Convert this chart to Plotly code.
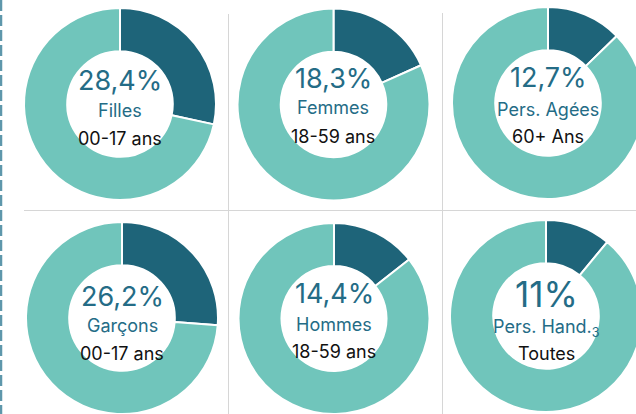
import plotly.graph_objects as go

# ---- data ----
percent_values = [28.4, 18.3, 12.7, 26.2, 14.4, 11.0]
percent_labels = ["28,4%", "18,3%", "12,7%", "26,2%", "14,4%", "11%"]
group_labels = ["Filles", "Femmes", "Pers. Agées", "Garçons", "Hommes", "Pers. Hand.<sub>3</sub>"]
age_labels = ["00-17 ans", "18-59 ans", "60+ Ans", "00-17 ans", "18-59 ans", "Toutes"]

# ---- layout (pixels) ----
W, H = 660, 414
centers = [(120, 104), (333.5, 104.5), (548, 103), (122, 318), (334, 318.5), (546, 316)]
R = 96
pct_sizes = [27, 27, 27, 27, 27, 35]
text_rows = [(81, 110.5, 139), (78.5, 107.5, 136), (78, 109.5, 136),
             (296, 325.5, 353.5), (293.5, 324.5, 351.5), (293.5, 327.5, 353.5)]

DARK = "#1e6479"
TEAL = "#70c5bb"
TXT = "#246c86"

fig = go.Figure()

def px_x(x):
    return x / W

def px_y(y):
    return 1 - y / H

for i, v in enumerate(percent_values):
    cx, cy = centers[i]
    r = min(R, H - cy, cy)
    x0, x1 = px_x(cx - r), px_x(cx + r)
    y0, y1 = px_y(cy + r), px_y(cy - r)
    fig.add_trace(go.Pie(
        values=[v, 100 - v],
        labels=["part", "reste"],
        hole=0.55,
        sort=False,
        direction="clockwise",
        rotation=0,
        marker=dict(colors=[DARK, TEAL], line=dict(color="white", width=2)),
        textinfo="none",
        hoverinfo="skip",
        showlegend=False,
        domain=dict(x=[max(0, x0), min(1, x1)], y=[max(0, y0), min(1, y1)]),
    ))
    ty_pct, ty_lab, ty_age = text_rows[i]
    fig.add_annotation(x=px_x(cx), y=px_y(ty_pct), xref="paper", yref="paper",
                       text=percent_labels[i], showarrow=False, xanchor="center", yanchor="middle",
                       font=dict(family="Inter", size=pct_sizes[i], color=TXT))
    fig.add_annotation(x=px_x(cx), y=px_y(ty_lab), xref="paper", yref="paper",
                       text=group_labels[i], showarrow=False, xanchor="center", yanchor="middle",
                       font=dict(family="Inter", size=18, color=TXT))
    fig.add_annotation(x=px_x(cx), y=px_y(ty_age), xref="paper", yref="paper",
                       text=age_labels[i], showarrow=False, xanchor="center", yanchor="middle",
                       font=dict(family="Inter", size=18, color="#111111"))

GRID = "#d6d6d6"
shapes = [
    dict(type="line", xref="paper", yref="paper", x0=px_x(228.5), x1=px_x(228.5), y0=px_y(14), y1=0,
         line=dict(color=GRID, width=1)),
    dict(type="line", xref="paper", yref="paper", x0=px_x(442.5), x1=px_x(442.5), y0=px_y(13), y1=0,
         line=dict(color=GRID, width=1)),
    dict(type="line", xref="paper", yref="paper", x0=px_x(24), x1=1, y0=px_y(210.5), y1=px_y(210.5),
         line=dict(color=GRID, width=1)),
    dict(type="line", xref="paper", yref="paper", x0=px_x(1), x1=px_x(1), y0=1, y1=0,
         line=dict(color="#5e97ab", width=2.5, dash="11px,4px")),
]

fig.update_layout(
    width=W, height=H,
    margin=dict(l=0, r=0, t=0, b=0),
    paper_bgcolor="white", plot_bgcolor="white",
    shapes=shapes,
    showlegend=False,
    font=dict(family="Inter"),
)

fig.write_html("out.html", config={"displayModeBar": False},
               post_script="document.body.style.margin='0';document.body.style.overflow='hidden';document.documentElement.style.overflow='hidden';")
